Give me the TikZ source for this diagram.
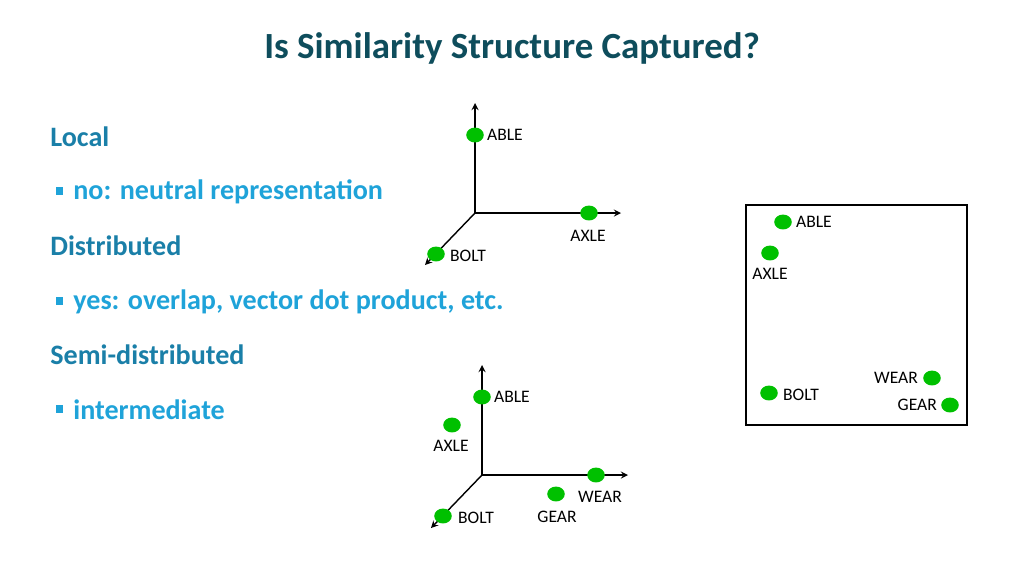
\documentclass[tikz,border=0pt]{standalone}
\usepackage{fontspec}
\setmainfont{Carlito}
\usepackage{tikz}
\usetikzlibrary{positioning,shapes.geometric,calc}
\definecolor{titleblue}{HTML}{0E4D5C}
\definecolor{headblue}{HTML}{1A7FA8}
\definecolor{itemblue}{HTML}{1FA3D9}
\definecolor{dotgreen}{HTML}{00C000}
\tikzset{
  dot/.style={ellipse,fill=dotgreen,minimum width=10pt,minimum height=8.5pt,inner sep=0pt},
  lbl/.style={font=\fontsize{10}{12}\selectfont,inner sep=1pt},
  head/.style={anchor=west,inner sep=0pt,text=headblue,font=\fontsize{16}{19}\selectfont\bfseries},
  item/.style={anchor=west,inner sep=0pt,text=itemblue,font=\fontsize{16}{19}\selectfont\bfseries},
  axis/.style={thick,->,>=stealth}
}
\begin{document}
\begin{tikzpicture}[x=0.02cm,y=-0.02cm]
  \useasboundingbox (0,0) rectangle (1024,576);
  \node[text=titleblue,font=\fontsize{21}{25}\selectfont\bfseries] (title) at (512,48) {Is Similarity Structure Captured?};
  % left column
  \node[head] (local) at (50,137) {Local};
  \node[item] (neutral) at (73,192) {no: neutral representation};
  \node[head] (distr) at (50,246) {Distributed};
  \node[item] (overlap) at (73,302) {yes: overlap, vector dot product, etc.};
  \node[head] (semi) at (50,355) {Semi-distributed};
  \node[item] (inter) at (73,410) {intermediate};
  \foreach \b in {neutral,overlap,inter}
    \fill[itemblue] ($(\b.west)+(-17,-5)$) rectangle ++(7,8);
  % local axes
  \coordinate (o1) at (475,213);
  \draw[axis] (o1) -- (475,103);
  \draw[axis] (o1) -- (621,213);
  \draw[axis] (o1) -- (425,265);
  \node[dot] (able1) at (475,135) {};
  \node[lbl,anchor=west] at (485,135) {ABLE};
  \node[dot] (axle1) at (589,213) {};
  \node[lbl] at (588,236) {AXLE};
  \node[dot] (bolt1) at (436,254) {};
  \node[lbl,anchor=west] at (448,256) {BOLT};
  % box
  \draw[thick] (746,205) rectangle (967,425);
  \node[dot] (able2) at (783,222) {};
  \node[lbl,anchor=west] at (794,222) {ABLE};
  \node[dot] (axle2) at (770,253) {};
  \node[lbl] at (770,274) {AXLE};
  \node[dot] (bolt2) at (769,393) {};
  \node[lbl,anchor=west] at (781,395) {BOLT};
  \node[dot] (wear2) at (932,378) {};
  \node[lbl,anchor=east] at (920,378) {WEAR};
  \node[dot] (gear2) at (950,405) {};
  \node[lbl,anchor=east] at (939,405) {GEAR};
  % semi-distributed axes
  \coordinate (o2) at (482,475);
  \draw[axis] (o2) -- (482,365);
  \draw[axis] (o2) -- (628,475);
  \draw[axis] (o2) -- (431,528);
  \node[dot] (able3) at (482,397) {};
  \node[lbl,anchor=west] at (492,397) {ABLE};
  \node[dot] (axle3) at (452,425) {};
  \node[lbl] at (451,446) {AXLE};
  \node[dot] (wear3) at (596,475) {};
  \node[lbl] at (600,497) {WEAR};
  \node[dot] (gear3) at (556,494) {};
  \node[lbl] at (557,517) {GEAR};
  \node[dot] (bolt3) at (443,516) {};
  \node[lbl,anchor=west] at (456,518) {BOLT};
\end{tikzpicture}
\end{document}
